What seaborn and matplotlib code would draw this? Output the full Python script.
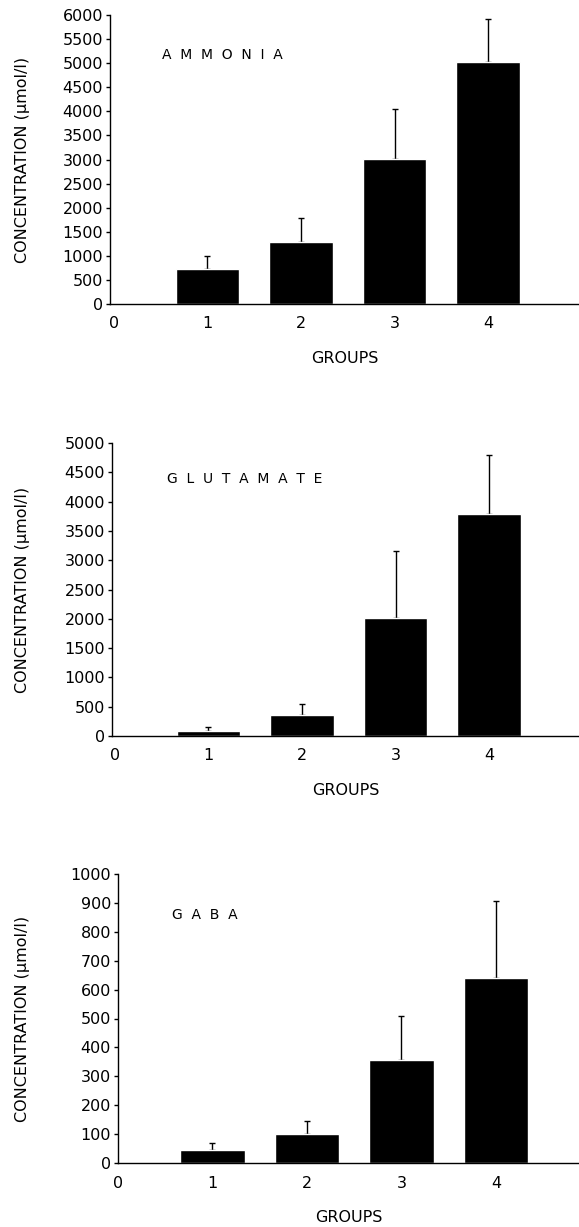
import numpy as np
import seaborn as sns
import matplotlib.pyplot as plt

groups = [1, 2, 3, 4]
tick_groups = [0, 1, 2, 3, 4]

ammonia_mean = [730, 1290, 3020, 5020]
ammonia_err = [260, 500, 1020, 890]
glutamate_mean = [80, 355, 2010, 3780]
glutamate_err = [80, 190, 1140, 1020]
gaba_mean = [44, 100, 355, 640]
gaba_err = [25, 45, 152, 265]

sns.set_theme(style="ticks")
plt.rcParams['font.family'] = ['DejaVu Sans']

W, H = 579, 1227
fig = plt.figure(figsize=(W / 100, H / 100), dpi=100)

# name, means, errors, ymax, ystep, axes box in px (left, top, right, bottom), xlim, name position px
panels = [
    ("A  M  M  O  N  I  A", ammonia_mean, ammonia_err, 6000, 500,
     (110, 15, 579, 304), (-0.04, 4.97), (162, 55)),
    ("G  L  U  T  A  M  A  T  E", glutamate_mean, glutamate_err, 5000, 500,
     (112, 443, 579, 736), (-0.03, 4.96), (167, 479)),
    ("G  A  B  A", gaba_mean, gaba_err, 1000, 100,
     (118, 874, 579, 1163), (0.0, 4.88), (172, 915)),
]

for name, mean, err, ymax, ystep, box, xlim, name_pos in panels:
    left, top, right, bottom = box
    aw, ah = right - left, bottom - top
    ax = fig.add_axes([left / W, 1 - bottom / H, aw / W, ah / H])

    sns.barplot(x=groups, y=mean, native_scale=True, width=0.68, color="black",
                saturation=1, errorbar=None, ax=ax, zorder=2)
    # upper error only; the lower cap sits under the bar
    ax.errorbar(groups, mean, yerr=[np.zeros(len(err)), err], fmt="none",
                ecolor="black", elinewidth=1, capsize=2.5, capthick=1, zorder=1)

    ax.set_xlim(*xlim)
    ax.set_ylim(0, ymax)
    ax.set_xticks(tick_groups)
    ax.set_xticklabels([str(g) for g in tick_groups])
    ax.set_yticks(np.arange(0, ymax + 1, ystep))

    sns.despine(ax=ax)
    for s in ("left", "bottom"):
        ax.spines[s].set_linewidth(1.0)
        ax.spines[s].set_color("black")
        ax.spines[s].set_zorder(3)
    ax.tick_params(axis="x", length=0, pad=9, labelsize=11.5, colors="black")
    ax.tick_params(axis="y", length=3, width=1, pad=2, labelsize=11.5, colors="black")

    ax.set_xlabel("GROUPS", fontsize=11.5, color="black", va="top")
    ax.xaxis.set_label_coords(0.5, -47 / ah)
    ax.set_ylabel("CONCENTRATION (\u00b5mol/l)", fontsize=11.5, color="black")
    ax.yaxis.set_label_coords((30 - left) / aw, 0.5)

    ax.text((name_pos[0] - left) / aw, (bottom - name_pos[1]) / ah, name,
            transform=ax.transAxes, ha="left", va="center", fontsize=10, color="black")

fig.savefig("out.png", dpi=100)
